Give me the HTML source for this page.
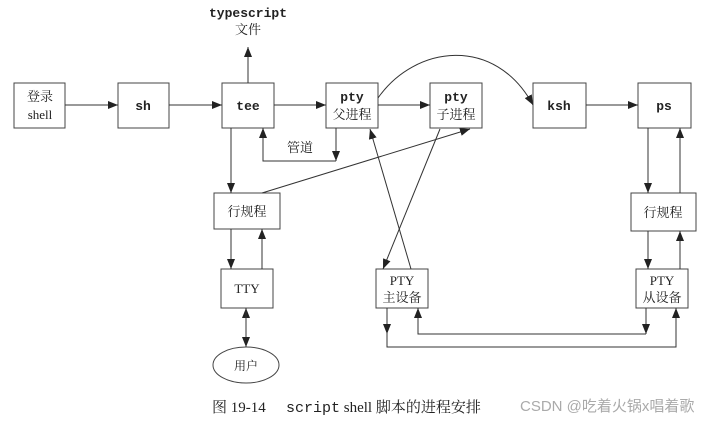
<!DOCTYPE html>
<html><head><meta charset="utf-8"><style>
html,body{margin:0;padding:0;background:#fff;}
svg{display:block;}
text{font-family:"Liberation Serif","Noto Serif CJK SC",serif;fill:#222;}
.m{font-family:"Liberation Mono","Noto Sans CJK SC",monospace;font-weight:bold;}
</style></head><body>
<svg width="715" height="421" viewBox="0 0 715 421" xmlns="http://www.w3.org/2000/svg">
<defs><marker id="a" markerWidth="10" markerHeight="8" refX="10" refY="4" orient="auto" markerUnits="userSpaceOnUse"><path d="M0,0 L10,4 L0,8 z" fill="#222"/></marker></defs>
<g fill="#fff" stroke="#444" stroke-width="1">
<rect x="14" y="83" width="51" height="45"/>
<rect x="118" y="83" width="51" height="45"/>
<rect x="222" y="83" width="52" height="45"/>
<rect x="326" y="83" width="52" height="45"/>
<rect x="430" y="83" width="52" height="45"/>
<rect x="533" y="83" width="53" height="45"/>
<rect x="638" y="83" width="53" height="45"/>
<rect x="214" y="193" width="66" height="36"/>
<rect x="631" y="193" width="65" height="38"/>
<rect x="221" y="269" width="52" height="39"/>
<rect x="376" y="269" width="52" height="39"/>
<rect x="636" y="269" width="52" height="39"/>
<ellipse cx="246" cy="365" rx="33" ry="18"/>
</g>
<g stroke="#333" stroke-width="1" fill="none" marker-end="url(#a)">
<line x1="65" y1="105" x2="118" y2="105"/>
<line x1="169" y1="105" x2="222" y2="105"/>
<line x1="274" y1="105" x2="326" y2="105"/>
<line x1="378" y1="105" x2="430" y2="105"/>
<line x1="586" y1="105" x2="638" y2="105"/>
<line x1="248" y1="83" x2="248" y2="47"/>
<path d="M336,128 L336,161"/>
<path d="M336,161 L263,161 L263,128"/>
<line x1="231" y1="128" x2="231" y2="193"/>
<line x1="262" y1="193" x2="470" y2="129"/>
<line x1="231" y1="229" x2="231" y2="269"/>
<line x1="262" y1="269" x2="262" y2="229"/>
<line x1="246" y1="347" x2="246" y2="308"/>
<line x1="246" y1="310" x2="246" y2="347"/>
<line x1="440" y1="129" x2="383" y2="269"/>
<line x1="411" y1="269" x2="370" y2="129"/>
<path d="M378,98 C415,45 495,35 533,105"/>
<line x1="648" y1="128" x2="648" y2="193"/>
<line x1="680" y1="193" x2="680" y2="128"/>
<line x1="648" y1="231" x2="648" y2="269"/>
<line x1="680" y1="269" x2="680" y2="231"/>
<path d="M646,308 L646,334"/>
<path d="M646,334 L418,334 L418,308"/>
<path d="M387,308 L387,334"/>
<path d="M387,334 L387,347 L676,347 L676,308"/>
</g>
<g font-size="13" text-anchor="middle">
<text x="40" y="101">登录</text><text x="40" y="119">shell</text>
<text class="m" x="143" y="110">sh</text>
<text class="m" x="248" y="110">tee</text>
<text class="m" x="352" y="101">pty</text><text x="352" y="119">父进程</text>
<text class="m" x="456" y="101">pty</text><text x="456" y="119">子进程</text>
<text class="m" x="559" y="110">ksh</text>
<text class="m" x="664" y="110">ps</text>
<text class="m" x="248" y="17">typescript</text><text x="248" y="34">文件</text>
<text x="300" y="152">管道</text>
<text x="247" y="216">行规程</text>
<text x="663" y="217">行规程</text>
<text x="247" y="293">TTY</text>
<text x="402" y="285">PTY</text><text x="402" y="302">主设备</text>
<text x="662" y="285">PTY</text><text x="662" y="302">从设备</text>
<text x="246" y="370" font-size="12">用户</text>
</g>
<text x="212" y="412" font-size="15">图 19-14</text>
<text x="286" y="412" font-size="15"><tspan font-family="Liberation Mono,monospace">script</tspan> shell 脚本的进程安排</text>
<text x="520" y="411" font-size="15" style="font-family:'Liberation Sans','Noto Sans CJK SC',sans-serif;fill:#aaa">CSDN @吃着火锅x唱着歌</text>
</svg>
</body></html>
